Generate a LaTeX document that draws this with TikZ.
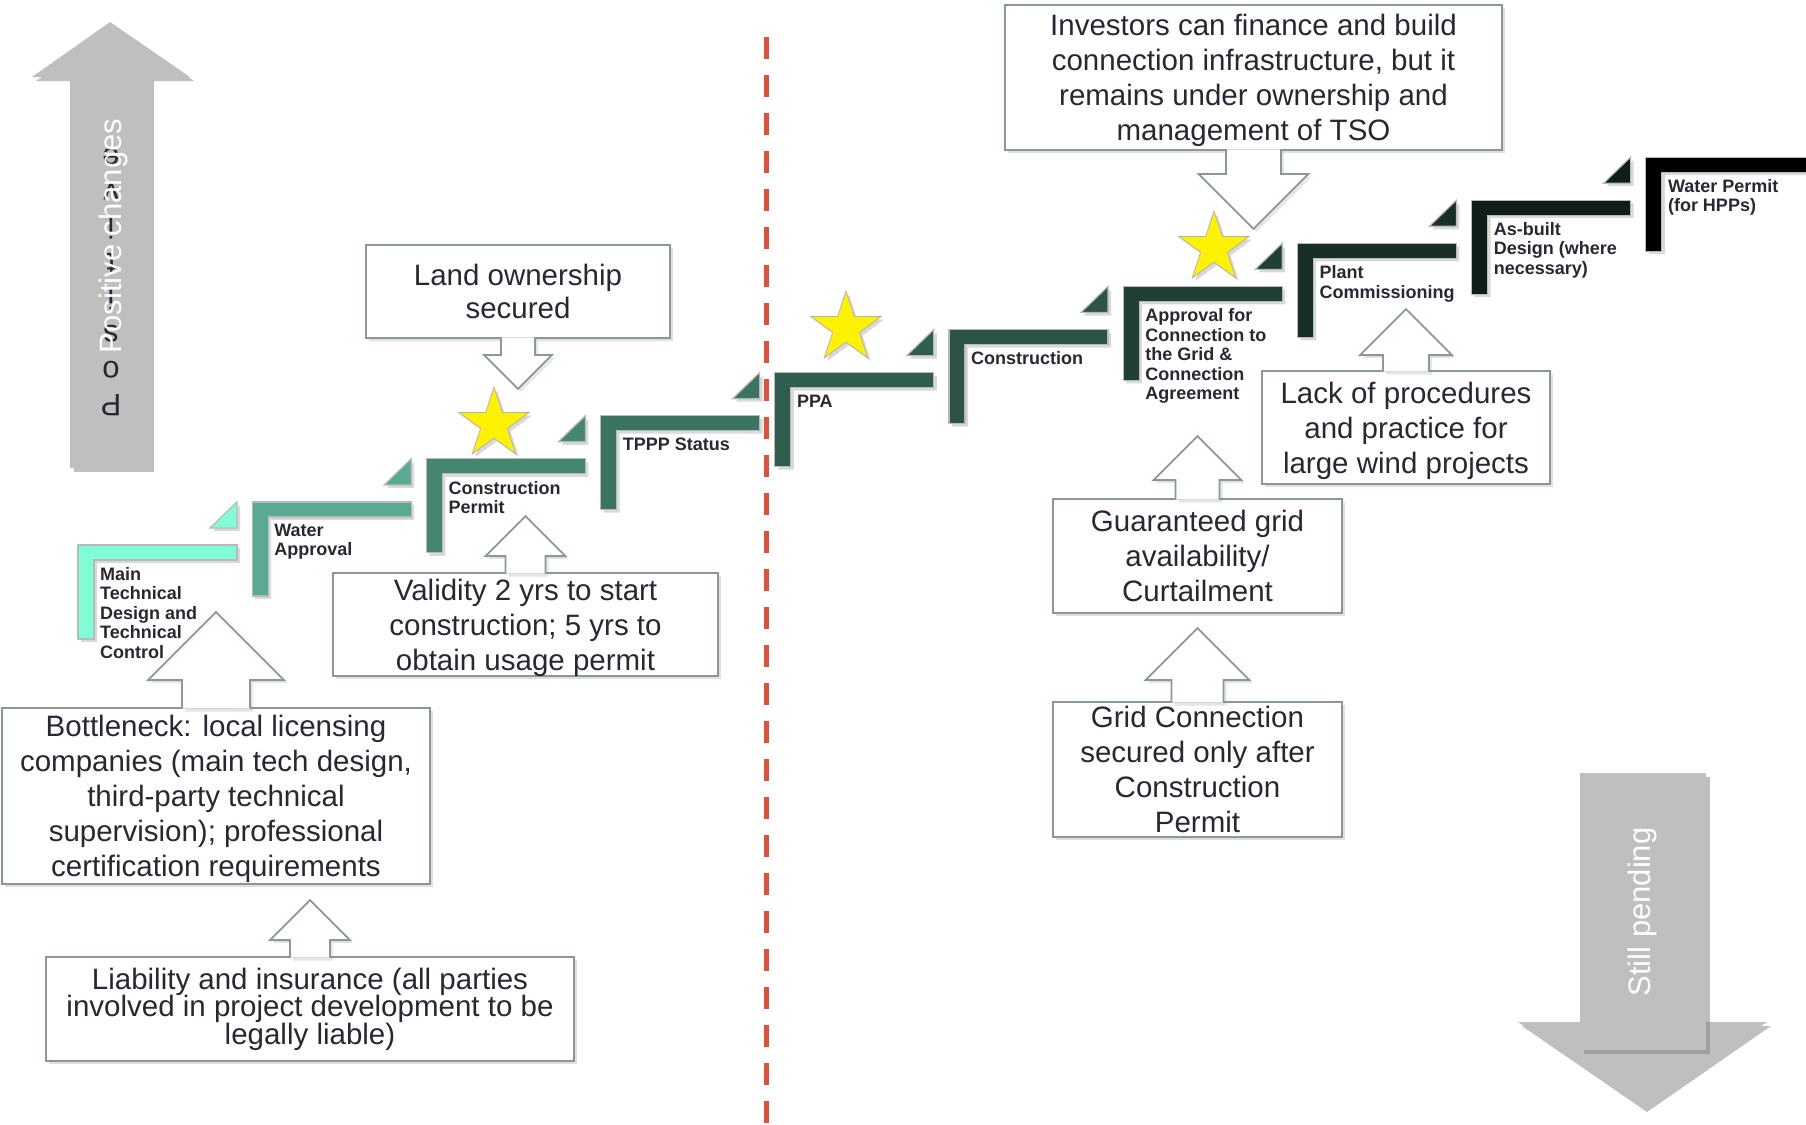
\documentclass[tikz,border=0pt]{standalone}
\usepackage{fontspec}
\setmainfont{Liberation Sans}
\usetikzlibrary{calc}
\usetikzlibrary{shadows}
\usetikzlibrary{shapes.geometric}

\definecolor{stepA}{RGB}{128,255,214}
\definecolor{stepB}{RGB}{88,170,146}
\definecolor{stepC}{RGB}{69,134,113}
\definecolor{stepD}{RGB}{60,116,98}
\definecolor{stepE}{RGB}{47,93,78}
\definecolor{stepF}{RGB}{43,84,70}
\definecolor{stepG}{RGB}{33,64,53}
\definecolor{stepH}{RGB}{24,46,38}
\definecolor{stepI}{RGB}{15,29,23}
\definecolor{stepJ}{RGB}{0,0,0}
\definecolor{boxline}{RGB}{138,154,144}
\definecolor{textdark}{RGB}{40,40,52}
\definecolor{bigarrow}{RGB}{191,191,191}
\definecolor{dashred}{RGB}{222,82,60}

\tikzset{
  stepbar/.style={draw=gray!55, line width=1.2pt,
    drop shadow={shadow xshift=3pt, shadow yshift=-3pt, opacity=.3}},
  steplabel/.style={anchor=north west, inner sep=0pt, align=left, text=textdark,
    font=\fontsize{18}{19.5}\selectfont\bfseries},
  callbox/.style={draw=boxline, line width=1.8pt, fill=white, align=center,
    text=textdark, inner xsep=2pt, inner ysep=0pt, text depth=0pt,
    font=\fontsize{29.5}{35}\selectfont,
    drop shadow={shadow xshift=3pt, shadow yshift=-3pt, opacity=.25}},
  callline/.style={draw=boxline, line width=1.8pt, fill=white, line join=miter,
    drop shadow={shadow xshift=3pt, shadow yshift=-3pt, opacity=.2}},
  goldstar/.style={star, star points=5, star point ratio=2.618, fill=yellow,
    draw=gray!60, line width=0.8pt, inner sep=0pt, minimum size=74pt,
    drop shadow={shadow xshift=3pt, shadow yshift=-3pt, opacity=.3}},
  bigshape/.style={fill=bigarrow,
    drop shadow={shadow xshift=4pt, shadow yshift=-4pt, opacity=.5}},
  bigtext/.style={rotate=90, text=white, inner sep=0pt, font=\fontsize{31}{31}\selectfont}
}

\begin{document}
\begin{tikzpicture}[x=1pt, y=-1pt]
    \useasboundingbox (0,0) rectangle (1806,1124);

    % block arrow from a box edge to a tip
    \def\callarrow#1#2#3{
      \coordinate (ct) at ($(#1)!-1.5pt!(#2)$);
      \coordinate (ch) at ($(#2)!2*#3!(#1)$);
      \filldraw[callline] ($(ct)!#3!90:(#2)$) -- ($(ch)!#3!90:(#2)$)
        -- ($(ch)!2*#3!90:(#2)$) -- (#2) -- ($(ch)!2*#3!-90:(#2)$)
        -- ($(ch)!#3!-90:(#2)$) -- ($(ct)!#3!-90:(#2)$);
    }

    % Big gray arrows
    \fill[bigshape] (32,77) -- (110,22) -- (190,77) -- cycle;
    \fill[bigshape] (70,77) rectangle (150,468);
    \foreach \c [count=\n] in {P,o,s,i,t,i,v,e}
      \node[bigtext, rotate=90, text=textdark] (ghost\n) at (111,{405-35.5*(\n-1)}) {\c};
    \node[bigtext] (postext) at (113,236) {Positive changes};

    \fill[bigshape] (1518,1022) -- (1767,1022) -- (1643,1108) -- cycle;
    \fill[bigshape] (1580,773) rectangle (1706,1050);
    \node[bigtext] (pendtext) at (1642,912) {Still pending};

    % Divider
    \draw[dashred, line width=5pt, dash pattern=on 22pt off 16pt] (766,37) -- (766,1124);

    % Stairs
    \foreach \k/\col/\txt in {
        1/stepA/{Main\\Technical\\Design and\\Technical\\Control},
        2/stepB/{Water\\Approval},
        3/stepC/{Construction\\Permit},
        4/stepD/{TPPP Status},
        5/stepE/{PPA},
        6/stepF/{Construction},
        7/stepG/{Approval for\\Connection to\\the Grid \&\\Connection\\Agreement},
        8/stepH/{Plant\\Commissioning},
        9/stepI/{As-built\\Design (where\\necessary)},
        10/stepJ/{Water Permit\\(for HPPs)}} {
      \pgfmathsetmacro\sx{78+174.2*(\k-1)}
      \pgfmathsetmacro\sy{545-43.1*(\k-1)}
      \pgfmathsetmacro\sl{\k==10 ? 175 : 159}
      \filldraw[stepbar, fill=\col] (\sx,\sy) -- ({\sx+\sl},\sy) -- ({\sx+\sl},{\sy+15})
        -- ({\sx+16},{\sy+15}) -- ({\sx+16},{\sy+94}) -- (\sx,{\sy+94}) -- cycle;
      \ifnum\k<10
        \filldraw[stepbar, fill=\col] ({\sx+159},{\sy-43.1}) -- ({\sx+159},{\sy-17})
          -- ({\sx+132},{\sy-17}) -- cycle;
      \fi
      \node[steplabel] (step\k) at ({\sx+22},{\sy+22}) {\txt};
    }

    % Stars
    \node[goldstar] (star1) at (494,424) {};
    \node[goldstar] (star2) at (846,328) {};
    \node[goldstar] (star3) at (1214,248) {};

    % Callout boxes
    \node[callbox, minimum width=304pt, minimum height=93pt, font=\fontsize{29.5}{33}\selectfont] (land) at (518,291.5)
      {Land ownership\\secured};
    \node[callbox, minimum width=385pt, minimum height=103pt] (validity) at (525.5,624.5)
      {Validity 2 yrs to start\\construction; 5 yrs to\\obtain usage permit};
    \node[callbox, minimum width=428pt, minimum height=176pt] (bottleneck) at (216,796)
      {Bottleneck: local licensing\\companies (main tech design,\\third-party technical\\supervision); professional\\certification requirements};
    \node[callbox, minimum width=528pt, minimum height=104pt, text depth=, font=\fontsize{29.5}{27.5}\selectfont] (liability) at (310,1009)
      {Liability and insurance (all parties\\involved in project development to be\\legally liable)};
    \node[callbox, minimum width=497pt, minimum height=145pt] (investors) at (1253.5,77.5)
      {Investors can finance and build\\connection infrastructure, but it\\remains under ownership and\\management of TSO};
    \node[callbox, minimum width=288pt, minimum height=113pt] (lack) at (1406,427.5)
      {Lack of procedures\\and practice for\\large wind projects};
    \node[callbox, minimum width=289pt, minimum height=114pt] (guaranteed) at (1197.5,556)
      {Guaranteed grid\\availability/\\Curtailment};
    \node[callbox, minimum width=289pt, minimum height=135pt] (gridconn) at (1197.5,769.5)
      {Grid Connection\\secured only after\\Construction\\Permit};

    % Arrow tips
    \coordinate (landtip) at ($(land.south)+(0,50)$);
    \coordinate (validitytip) at ($(validity.north)+(0,-56)$);
    \coordinate (bottlenecktip) at ($(bottleneck.north)+(0,-95)$);
    \coordinate (liabilitytip) at ($(liability.north)+(0,-56)$);
    \coordinate (investorstip) at ($(investors.south)+(0,78)$);
    \coordinate (lacktip) at ($(lack.north)+(0,-61)$);
    \coordinate (guaranteedtip) at ($(guaranteed.north)+(0,-62)$);
    \coordinate (gridconntip) at ($(gridconn.north)+(0,-73)$);

    % Block arrows
    \callarrow{land.south}{landtip}{17pt}
    \callarrow{validity.north}{validitytip}{20pt}
    \callarrow{bottleneck.north}{bottlenecktip}{34pt}
    \callarrow{liability.north}{liabilitytip}{20pt}
    \callarrow{investors.south}{investorstip}{27.5pt}
    \callarrow{lack.north}{lacktip}{23pt}
    \callarrow{guaranteed.north}{guaranteedtip}{22pt}
    \callarrow{gridconn.north}{gridconntip}{26pt}

\end{tikzpicture}
\end{document}
